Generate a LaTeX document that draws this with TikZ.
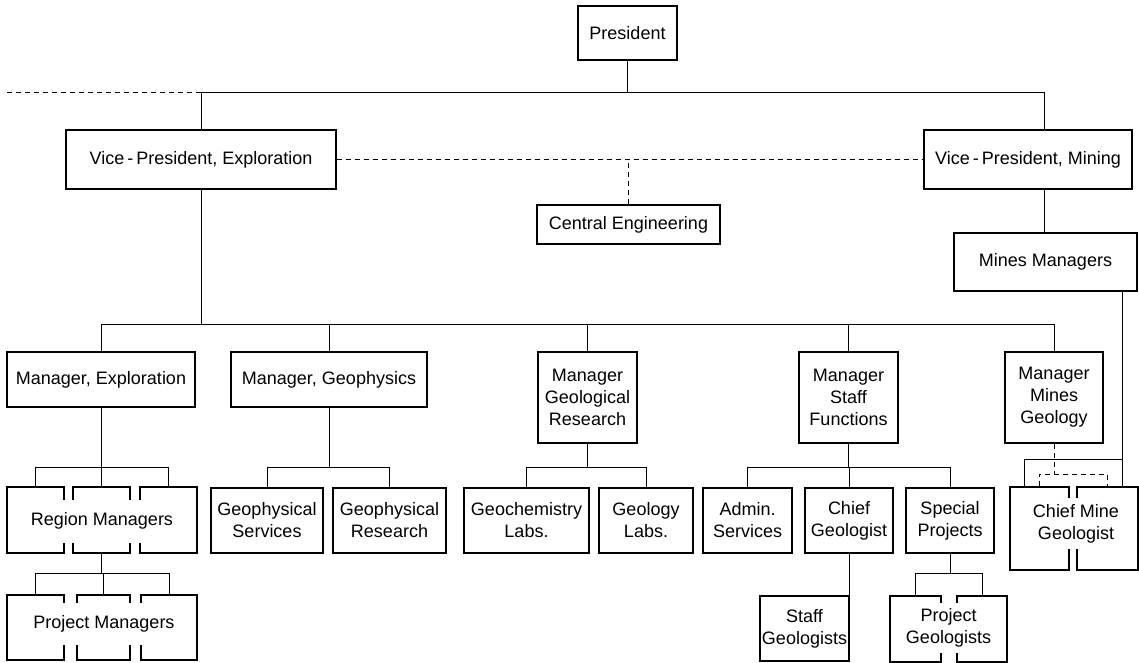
\documentclass[tikz,border=0pt]{standalone}
\usepackage{fontspec}
\setmainfont{Liberation Sans}
\begin{document}
\begin{tikzpicture}[x=1pt,y=-1pt,
  box/.style={draw, line width=1.1pt, inner sep=0pt, align=center, font=\fontsize{18}{22}\selectfont},
  txt/.style={fill=white, inner xsep=1pt, inner ysep=0pt, align=center, font=\fontsize{18}{22}\selectfont},
  conn/.style={line width=0.9pt},
  dline/.style={line width=0.9pt, dash pattern=on 5pt off 4pt}]
\useasboundingbox (0,0) rectangle (1139,663);
% top levels
\node[box, minimum width=99pt, minimum height=54pt] (pres) at (627.5,33) {President};
\node[box, minimum width=270pt, minimum height=59pt] (vpe) at (201,159.5) {Vice\,-\,President, Exploration};
\node[box, minimum width=208pt, minimum height=59pt] (vpm) at (1028,159.5) {Vice\,-\,President, Mining};
\node[box, minimum width=183pt, minimum height=39pt] (ce) at (628.5,224.5) {Central Engineering};
\node[box, minimum width=183pt, minimum height=58pt] (mm) at (1045.5,262) {Mines Managers};
% managers
\node[box, minimum width=188pt, minimum height=55pt] (mexp) at (101,379.5) {Manager, Exploration};
\node[box, minimum width=196pt, minimum height=55pt] (mgeo) at (329,379.5) {Manager, Geophysics};
\node[box, minimum width=99pt, minimum height=91pt] (mgr) at (587.5,397.5) {Manager\\Geological\\Research};
\node[box, minimum width=99pt, minimum height=91pt] (msf) at (848.5,397.5) {Manager\\Staff\\Functions};
\node[box, minimum width=98pt, minimum height=91pt] (mmg) at (1054,397.5) {Manager\\Mines\\Geology};
% children
\node[box, minimum width=112pt, minimum height=65pt] (gs) at (267,520.5) {Geophysical\\Services};
\node[box, minimum width=113pt, minimum height=65pt] (gr) at (389.5,520.5) {Geophysical\\Research};
\node[box, minimum width=125pt, minimum height=65pt] (gcl) at (526.5,520.5) {Geochemistry\\Labs.};
\node[box, minimum width=94pt, minimum height=65pt] (gl) at (646,520.5) {Geology\\Labs.};
\node[box, minimum width=89pt, minimum height=65pt] (adm) at (747.5,520.5) {Admin.\\Services};
\node[box, minimum width=88pt, minimum height=65pt] (cg) at (849,520.5) {Chief\\Geologist};
\node[box, minimum width=88pt, minimum height=65pt] (spj) at (950,520.5) {Special\\Projects};
\node[box, minimum width=89pt, minimum height=65pt] (sg) at (804.5,628.5) {Staff\\Geologists};
% stacked groups
\node[box, minimum width=57pt, minimum height=66pt] (rm1) at (35.5,520) {};
\node[box, minimum width=57pt, minimum height=66pt] (rm2) at (101.5,520) {};
\node[box, minimum width=57pt, minimum height=66pt] (rm3) at (168.5,520) {};
\node[box, minimum width=57pt, minimum height=65pt] (pm1) at (35.5,627.5) {};
\node[box, minimum width=53pt, minimum height=65pt] (pm2) at (103.5,627.5) {};
\node[box, minimum width=56pt, minimum height=65pt] (pm3) at (169,627.5) {};
\node[box, minimum width=51pt, minimum height=66pt] (pg1) at (915.5,629) {};
\node[box, minimum width=50pt, minimum height=66pt] (pg2) at (982,629) {};
\node[box, minimum width=59pt, minimum height=83pt] (cm1) at (1039.5,528.5) {};
\node[box, minimum width=61pt, minimum height=83pt] (cm2) at (1107.5,528.5) {};
\node[txt, minimum height=43pt] (rmt) at (102,521) {Region Managers};
\node[txt, minimum height=42pt] (pmt) at (104,624) {Project Managers};
\node[txt, minimum height=50pt] (pgt) at (948.5,628) {Project\\Geologists};
\node[txt, minimum height=51pt] (cmt) at (1076,523.5) {Chief Mine\\Geologist};
% connectors
\coordinate (b1) at (626,92);
\coordinate (vmx) at (1044,92);
\coordinate (lend) at (7,92);
\draw[conn] (pres.south) -- (pres.south |- b1);
\draw[conn] (vpe.north) -- (vpe.north |- b1) -- (vmx) -- (vmx |- vpm.north);
\draw[dline] (lend) -- (vpe.north |- b1);
\draw[conn] (vmx |- vpm.south) -- (vmx |- mm.north);
\draw[dline] (vpe.east) -- (vpm.west);
\draw[dline] (ce.north) -- (ce.north |- vpe.east);
\coordinate (b2) at (201,324);
\draw[conn] (vpe.south) -- (b2);
\draw[conn] (mexp.north) -- (mexp.north |- b2) -- (mmg.north |- b2) -- (mmg.north);
\foreach \n in {mgeo,mgr,msf} \draw[conn] (\n.north) -- (\n.north |- b2);
\coordinate (b3) at (0,467);
\coordinate (b4) at (0,573);
\draw[conn] (mexp.south) -- (mexp.south |- b3);
\draw[conn] (rm1.north) -- (rm1.north |- b3) -- (rm3.north |- b3) -- (rm3.north);
\draw[conn] (rm2.north) -- (rm2.north |- b3);
\draw[conn] (rm2.south) -- (rm2.south |- b4);
\draw[conn] (pm1.north) -- (pm1.north |- b4) -- (pm3.north |- b4) -- (pm3.north);
\draw[conn] (pm2.north) -- (pm2.north |- b4);
\draw[conn] (mgeo.south) -- (mgeo.south |- b3);
\draw[conn] (gs.north) -- (gs.north |- b3) -- (gr.north |- b3) -- (gr.north);
\draw[conn] (mgr.south) -- (mgr.south |- b3);
\draw[conn] (gcl.north) -- (gcl.north |- b3) -- (gl.north |- b3) -- (gl.north);
\draw[conn] (msf.south) -- (msf.south |- b3);
\draw[conn] (adm.north) -- (adm.north |- b3) -- (spj.north |- b3) -- (spj.north);
\draw[conn] (cg.north) -- (cg.north |- b3);
\draw[conn] (cg.south) -- (cg.south |- sg.north);
\draw[conn] (spj.south) -- (spj.south |- b4);
\draw[conn] (pg1.north) -- (pg1.north |- b4) -- (pg2.north |- b4) -- (pg2.north);
\coordinate (rx) at (1122,459);
\coordinate (lx) at (1024,459);
\draw[conn] (rx |- mm.south) -- (rx |- cm2.north);
\draw[conn] (rx) -- (lx) -- (lx |- cm1.north);
\coordinate (dl) at (1039.5,474);
\coordinate (dr) at (1107.5,474);
\draw[dline] (mmg.south) -- (mmg.south |- dl);
\draw[dline] (cm1.north) -- (dl) -- (dr) -- (cm2.north);
\end{tikzpicture}
\end{document}
